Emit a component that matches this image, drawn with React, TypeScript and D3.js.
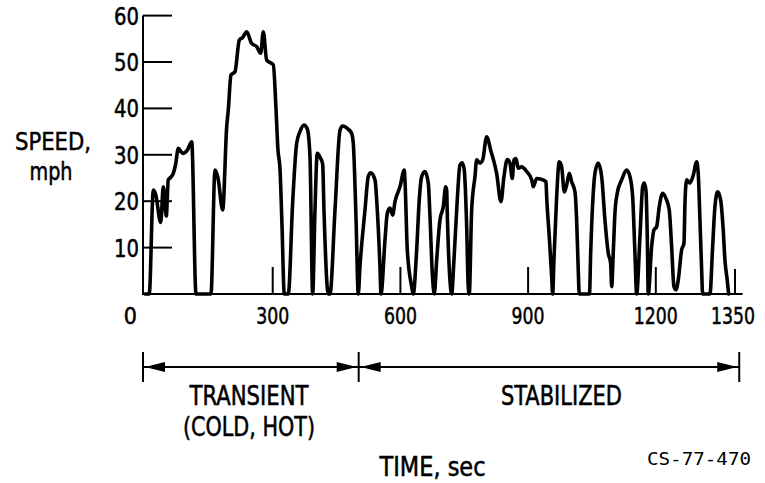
import React from 'react';
import * as d3 from 'd3';

// [time sec, speed mph]
const speedTrace: [number, number][] = [
  [0, 0], [10, 0], [19.5, 22.4], [25, 21.5], [36.9, 15.4], [43, 23.1], [50, 16.8], [54.7, 24.6],
  [58.7, 25], [66.5, 26], [72, 28], [78.2, 31.4], [88.6, 30.3], [99.4, 31], [109.7, 32.8], [119.8, 0],
  [155, 0], [164.4, 26.7], [171.5, 25], [182.5, 18.1], [191.9, 36], [195.7, 39.7], [202, 47.2],
  [211.4, 47.9], [221.5, 54.7], [229.5, 55.3], [238.9, 56.5], [250.6, 54], [262.4, 53.3],
  [271.8, 51.9], [277.9, 56.5], [285.9, 50.4], [301.4, 49.4], [307.7, 40], [312.4, 31], [317.1, 27],
  [321.8, 15], [327.2, 0],
  [336.6, 0], [347, 19.9], [356.3, 32.5], [364.1, 35], [373.5, 36.4], [381.2, 35.6], [387.6, 29.6], [393.9, 0],
  [399.3, 18], [404.7, 30.3], [411, 29.5], [417.4, 28], [420.5, 18], [430.6, 0],
  [434.6, 0], [446.3, 18], [458.1, 35.3], [464.4, 36.2], [477.6, 35.5], [485.5, 34.6], [489.3, 32.5],
  [495.6, 16.7], [501, 0],
  [505, 5.9], [516.8, 18.1], [524.5, 25.3], [530.2, 26.1], [540.3, 24.6], [545.7, 18.1], [552, 5.9], [554.4, 0],
  [563.8, 11.6], [569.2, 17.4], [575.5, 18.5], [581.8, 17], [587.3, 19.9], [599, 23.1], [609.1, 26.7],
  [610.7, 24.6], [616.2, 9.5], [626.5, 1.6], [630.2, 0],
  [638.2, 9.5], [644.3, 20.3], [650, 25.3], [657.7, 26.4], [665.5, 23.9], [669.5, 16.7], [674.9, 4.5], [679.6, 0],
  [685.2, 7.3], [693, 16], [700.7, 18.8], [706.3, 23.1], [708.7, 22.4], [710.1, 17.4], [716.4, 3], [720.4, 0],
  [725.8, 7.3], [733.6, 20.3], [739.9, 27.8], [745.3, 28.3], [750, 26.7], [755.7, 14.5], [759.4, 1.6], [761.8, 0],
  [767.4, 18.1], [775.2, 25.3], [779.2, 28.9], [786.9, 28.2], [793.3, 28.9], [802.7, 33.9], [812.1, 31],
  [826.1, 26], [836.2, 19.9], [843.3, 25.3], [851.1, 29], [857.4, 28.2], [862.8, 24.9], [866.8, 28.9],
  [871.5, 29.2], [876.9, 27.1], [884.9, 27.4], [896.6, 26.4], [908.4, 24.6], [912.1, 23.1], [920.1, 24.9],
  [931.8, 24.7], [942, 24.2], [943.6, 21], [949.7, 12.4], [955.4, 3.7], [957.7, 0],
  [960.7, 7.3], [967.1, 21], [973.2, 28.5], [978.8, 27.4], [985, 22], [990.6, 23.5], [996.7, 26],
  [1002.3, 24.2], [1010.1, 22], [1014, 16], [1017.8, 5.2], [1020.2, 0],
  [1044.2, 0], [1047, 8.8], [1051.7, 19.5], [1057, 26], [1064.8, 28.2], [1072.8, 25.3], [1080.5, 16],
  [1088.3, 8.8], [1093.9, 6.6], [1096.3, 1.6],
  [1100, 8.8], [1104, 17.4], [1109.4, 21.7], [1119.8, 24.6], [1131.5, 26.7], [1139.3, 25.3], [1145.6, 21],
  [1151, 8.8], [1155, 0],
  [1162.8, 12.4], [1169.1, 23.1], [1172.9, 23.9], [1176.8, 22.4], [1180, 12.4], [1182.3, 0],
  [1190.2, 10.2], [1195.6, 13.8], [1202, 14.5], [1208.1, 18.8], [1216.1, 21.7], [1223.8, 20.6],
  [1231.6, 18.1], [1237.2, 10.2], [1242.6, 1.6], [1247.3, 0.9], [1252.7, 3], [1260.7, 9.5], [1266.1, 10.9],
  [1268.5, 19.5], [1272.4, 24.6], [1280.2, 23.9], [1288, 25.6], [1296, 28.5], [1299.7, 26], [1303.7, 16],
  [1307.7, 5.2], [1310, 0],
  [1327.2, 0], [1333.5, 10.2], [1338.9, 18.8], [1345.3, 22], [1352.3, 20.3], [1358.4, 13.8], [1362.4, 7.3],
  [1367.8, 3], [1371.1, 0],
];

const yTicks = [10, 20, 30, 40, 50, 60];
const xTicks = [0, 300, 600, 900, 1200];
// the drawing puts its "1350" mark at the end of the cycle
const endTick = 1386;
const endTickLabel = '1350';
const phaseBounds = [0, 502, 1396];
const phaseNames = [['TRANSIENT', '(COLD, HOT)'], ['STABILIZED']];

const font = '"DejaVu Sans Condensed", "DejaVu Sans", sans-serif';

const App: React.FC = () => {
  const x = d3.scaleLinear().domain([0, 900]).range([145, 528.1]);
  const y = d3.scaleLinear().domain([0, 60]).range([294, 15.6]);

  const line = d3
    .line<[number, number]>()
    .x((d) => x(d[0]))
    .y((d) => y(d[1]))
    .curve(d3.curveMonotoneX);

  const axisLeft = x(0) - 2;
  const arrowY = 367;
  const head = (tip: number, dir: number) =>
    `M${tip},${arrowY} L${tip + dir * 20},${arrowY - 5} L${tip + dir * 20},${arrowY + 5} Z`;

  const textStyle = { fontFamily: font, fill: '#000', stroke: '#000', strokeWidth: 0.5 };

  return (
    <svg
      width={765}
      height={483}
      style={{ position: 'absolute', left: 0, top: 0, background: '#fff' }}
    >
      {/* axes */}
      <line x1={axisLeft} x2={axisLeft} y1={y(60)} y2={y(0) + 1} stroke="#000" strokeWidth={2} />
      <line x1={axisLeft} x2={x(1404)} y1={y(0)} y2={y(0)} stroke="#000" strokeWidth={2} />
      {yTicks.map((v) => (
        <g key={v}>
          <line x1={axisLeft} x2={axisLeft + 29} y1={y(v)} y2={y(v)} stroke="#000" strokeWidth={2} />
          <text x={139} y={y(v) + 9} textAnchor="end" fontSize={24} textLength={25} lengthAdjust="spacingAndGlyphs" style={textStyle}>
            {v}
          </text>
        </g>
      ))}
      {xTicks.map((v) =>
        v === 0 ? (
          <text key={v} x={x(0) - 8} y={323.5} textAnchor="end" fontSize={23} style={textStyle}>
            0
          </text>
        ) : (
          <g key={v}>
            <line x1={x(v)} x2={x(v)} y1={y(0)} y2={y(0) - 27} stroke="#000" strokeWidth={2} />
            <text x={x(v)} y={323.5} textAnchor="middle" fontSize={23} textLength={String(v).length * 11} lengthAdjust="spacingAndGlyphs" style={textStyle}>
              {v}
            </text>
          </g>
        ),
      )}
      <line x1={x(endTick)} x2={x(endTick)} y1={y(0)} y2={y(0) - 25} stroke="#000" strokeWidth={2} />
      <text x={x(endTick) - 2} y={323.5} textAnchor="middle" fontSize={23} textLength={44} lengthAdjust="spacingAndGlyphs" style={textStyle}>
        {endTickLabel}
      </text>

      {/* y title */}
      <text x={53} y={150} textAnchor="middle" fontSize={25} textLength={76} lengthAdjust="spacingAndGlyphs" style={textStyle}>
        SPEED,
      </text>
      <text x={51} y={180} textAnchor="middle" fontSize={25} textLength={43} lengthAdjust="spacingAndGlyphs" style={textStyle}>
        mph
      </text>

      {/* speed trace */}
      <path
        d={line(speedTrace) ?? ''}
        fill="none"
        stroke="#000"
        strokeWidth={3.6}
        strokeLinejoin="round"
        strokeLinecap="round"
      />

      {/* phase arrows */}
      {phaseBounds.map((b, i) => {
        const px = i === 0 ? axisLeft : x(b);
        return <line key={b} x1={px} x2={px} y1={352} y2={382} stroke="#000" strokeWidth={2} />;
      })}
      {phaseNames.map((_, i) => {
        const a = i === 0 ? axisLeft : x(phaseBounds[i]);
        const b = x(phaseBounds[i + 1]);
        return (
          <g key={i}>
            <line x1={a} x2={b} y1={arrowY} y2={arrowY} stroke="#000" strokeWidth={1.8} />
            <path d={head(a + 2, 1)} fill="#000" />
            <path d={head(b - 2, -1)} fill="#000" />
          </g>
        );
      })}
      <text x={249} y={405} textAnchor="middle" fontSize={26} textLength={119} lengthAdjust="spacingAndGlyphs" style={textStyle}>
        {phaseNames[0][0]}
      </text>
      <text x={249} y={436} textAnchor="middle" fontSize={26} textLength={132} lengthAdjust="spacingAndGlyphs" style={textStyle}>
        {phaseNames[0][1]}
      </text>
      <text x={561.5} y={405} textAnchor="middle" fontSize={26} textLength={121} lengthAdjust="spacingAndGlyphs" style={textStyle}>
        {phaseNames[1][0]}
      </text>

      {/* x title and figure number */}
      <text x={432.5} y={476} textAnchor="middle" fontSize={26} textLength={106} lengthAdjust="spacingAndGlyphs" style={textStyle}>
        TIME, sec
      </text>
      <text x={699} y={465} textAnchor="middle" fontSize={17} textLength={104} lengthAdjust="spacingAndGlyphs" style={{ fontFamily: '"DejaVu Sans Mono", monospace', fill: '#000' }}>
        CS-77-470
      </text>
    </svg>
  );
};

export default App;
